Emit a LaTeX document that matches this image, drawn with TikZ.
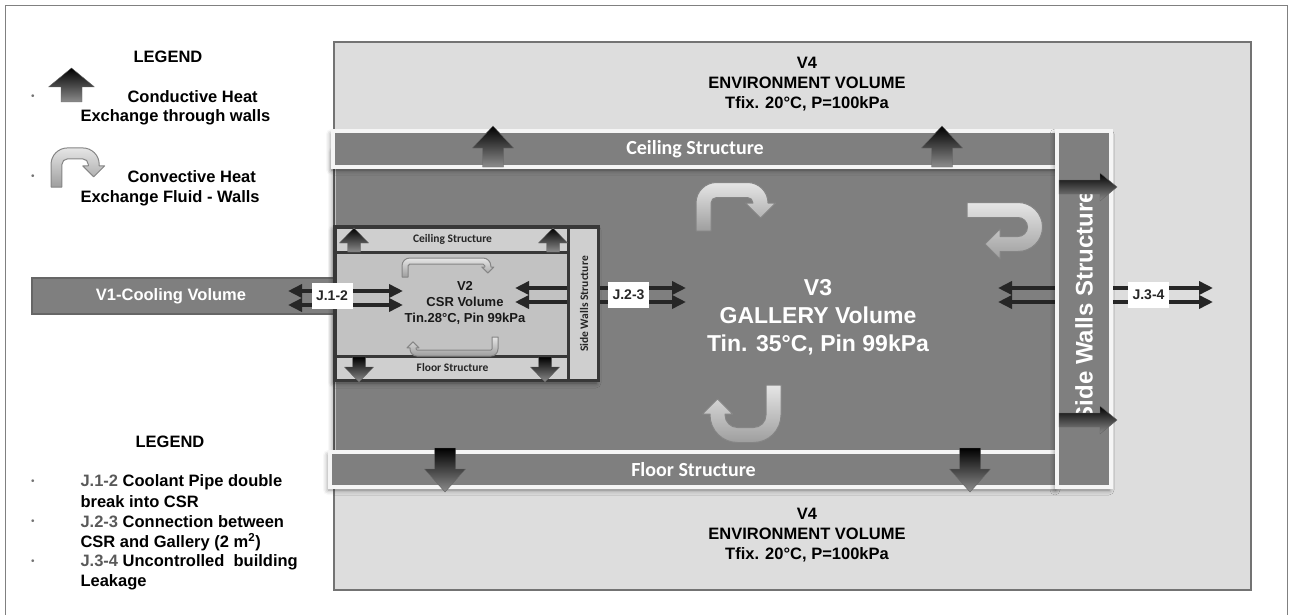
\documentclass[tikz,border=0pt]{standalone}
\usepackage{fontspec}
\setmainfont{Liberation Sans}
\newfontfamily\calfont{Carlito}
\usetikzlibrary{positioning, arrows.meta, calc, shadows.blur}
\definecolor{vgenv}{HTML}{DDDDDD}
\definecolor{vggal}{HTML}{7F7F7F}
\definecolor{vgcsr}{HTML}{C2C2C2}
\definecolor{vgrim}{HTML}{383838}
\definecolor{vgtag}{HTML}{595959}
% block arrow: base (#1,#2), turned by #3, length #4, head length #5, stem #6, head #7
\newcommand{\vgcond}[7]{%
  \begin{scope}[shift={(#1,#2)}, rotate=#3, x=1pt, y=1pt]
    \shadedraw[cond]
      ({-#6/2},0) -- ({-#6/2},{#4-#5}) -- ({-#7/2},{#4-#5}) -- (0,#4)
      -- ({#7/2},{#4-#5}) -- ({#6/2},{#4-#5}) -- ({#6/2},0) -- cycle;
  \end{scope}}
% bent arrow: stem foot (#1,#2), turned by #3, scale #4, span #5, rise #6, drop #7, bend #8
\newcommand{\vgconv}[8]{%
  \begin{scope}[shift={(#1,#2)}, rotate=#3, x=#4pt, y=#4pt]
    \shadedraw[conv]
      (-7.5,0) -- (-7.5,{#6-#8}) arc[start angle=180, end angle=90, radius={#8+7.5}]
      -- ({#5-#8},{#6+7.5}) arc[start angle=90, end angle=0, radius={#8+7.5}]
      -- ({#5+7.5},{#6-#7}) -- ({#5+15},{#6-#7}) -- (#5,{#6-#7-15})
      -- ({#5-15},{#6-#7}) -- ({#5-7.5},{#6-#7})
      -- ({#5-7.5},{#6-#8}) arc[start angle=0, end angle=90, radius={#8-7.5}]
      -- (#8,{#6-7.5}) arc[start angle=90, end angle=180, radius={#8-7.5}]
      -- (7.5,0) -- cycle;
  \end{scope}}

\begin{document}
\begin{tikzpicture}[
    x=1pt, y=-1pt,
    font=\bfseries\fontsize{16.5}{20}\selectfont,
    % ---- shared styles ---------------------------------------------------
    envbox/.style={draw=black!55, fill=vgenv, line width=1.4pt},
    galbox/.style={draw=black!25, fill=vggal, line width=1pt},
    galwall/.style={draw=black!4, fill=vggal, line width=3.5pt, inner sep=0pt,
                    text=white, font=\calfont\bfseries\fontsize{20}{24}\selectfont},
    csrbox/.style={draw=vgrim, fill=vgcsr, line width=4pt, inner sep=0pt},
    csrwall/.style={draw=vgrim, fill=black!19, line width=3pt, inner sep=0pt,
                    text=black!85, font=\calfont\bfseries\fontsize{11.5}{14}\selectfont},
    tagbox/.style={fill=white, inner sep=0pt, minimum width=41pt, minimum height=26pt,
                   text=black!85, font=\bfseries\fontsize{14}{16}\selectfont},
    jflow/.style={arrows={Triangle[length=14pt,width=13pt]-Triangle[length=14pt,width=13pt]},
                  line width=4pt, draw=black!85},
    cond/.style={top color=black, bottom color=black!45, draw=black!60,
                 line width=0.4pt, line join=round},
    conv/.style={top color=black!10, bottom color=black!38, draw=black!48,
                 line width=1pt, line join=round},
    vol/.style={align=center, text=white},
    lbl/.style={anchor=west},
    dot/.style={text=black!55, font=\fontsize{10}{12}\selectfont},
    haze/.style={blur shadow={shadow xshift=-2pt, shadow yshift=-3pt,
                              shadow blur radius=5pt, shadow opacity=45}},
  ]
\useasboundingbox (0,0) rectangle (1289,615);

% frame
\draw[black!50, line width=1pt] (5,620) -- (5,6) -- (1287,6) -- (1287,620);

% =========================================================================
% V4 -- environment all round
% =========================================================================
\draw[envbox] (334,42) rectangle (1251,590);
\node[align=center] (v4top) at (807,84)
  {V4\\ENVIRONMENT VOLUME\\Tfix. 20°C, P=100kPa};
\node[align=center] (v4bot) at (807,535)
  {V4\\ENVIRONMENT VOLUME\\Tfix. 20°C, P=100kPa};

% =========================================================================
% V3 -- gallery, ceiling and floor
% =========================================================================
\draw[galbox, haze] (335,149) rectangle (1060,470);
\node[galwall, haze, minimum width=724pt, minimum height=36pt] (ceil) at (695,149)
  {Ceiling Structure};
\node[galwall, haze, minimum width=727pt, minimum height=35pt] (floor) at (693.5,469.5)
  {Floor Structure};

\node[vol, font=\bfseries\fontsize{23}{28}\selectfont] (v3) at (818,317)
  {V3\\GALLERY Volume\\Tin. 35°C, Pin 99kPa};
\vgconv{703.5}{231}{0}{1}{57}{41}{13}{13}
\vgconv{967}{210}{-90}{1}{34}{68}{35}{17}
\vgconv{773.5}{385}{180}{1}{56}{50}{21}{20}

% =========================================================================
% V1 -- cooling volume
% =========================================================================
\draw[draw=black!60, fill=vggal, line width=1.2pt] (32,278) rectangle (335,314);
\node[text=white] (v1) at (171,296) {V1-Cooling Volume};

% =========================================================================
% V2 -- CSR box (walls laid over the junction lines)
% =========================================================================
\node[csrbox, haze, minimum width=263pt, minimum height=153pt] (csr) at (466.5,303.5) {};

\coordinate (j12w) at (288,291);  \coordinate (j12e) at (403,291);
\coordinate (j23w) at (515,288);  \coordinate (j23e) at (686,288);
\coordinate (j34w) at (998,288);  \coordinate (j34e) at (1213,288);
\foreach \dy in {0,14}{
  \draw[jflow] ($(j12w)+(0,\dy)$) -- ($(j12e)+(0,\dy)$);
  \draw[jflow] ($(j23w)+(0,\dy)$) -- ($(j23e)+(0,\dy)$);
  \draw[jflow] ($(j34w)+(0,\dy)$) -- ($(j34e)+(0,\dy)$);}

\node[csrwall, minimum width=235pt, minimum height=25pt] (cceil) at (452.5,239.5)
  {Ceiling Structure};
\node[csrwall, minimum width=235pt, minimum height=24pt] (cfloor) at (452.5,368)
  {Floor Structure};
\node[csrwall, minimum width=30pt, minimum height=153pt] (cwall) at (583,303.5) {};
\node[rotate=90, text=black!85, font=\calfont\bfseries\fontsize{11.5}{14}\selectfont]
  (cwalltxt) at (584,304) {Side Walls Structure};
\node[align=center, text=black!90, font=\bfseries\fontsize{13}{16}\selectfont]
  (v2) at (465,303) {V2\\CSR Volume\\Tin.28°C, Pin 99kPa};
\vgconv{405}{277}{0}{0.4}{207}{40}{15}{12}
\vgconv{495}{337}{180}{0.4}{205}{40}{13}{10}

% gallery side wall, over the J.3-4 lines
\node[galwall, haze, minimum width=54pt, minimum height=356pt] (wall) at (1084,309) {};
\node[rotate=90, text=white, font=\bfseries\fontsize{24}{28}\selectfont]
  (walltxt) at (1084,306) {Side Walls Structure};

% -------- conduction through the walls --------
\vgcond{354}{252}{0}{24}{15}{13}{29}
\vgcond{553}{252}{0}{24}{15}{13}{29}
\vgcond{359}{357}{180}{25}{15}{13}{29}
\vgcond{545}{357}{180}{25}{15}{13}{29}
\vgcond{493}{167}{0}{41}{22}{21}{41}
\vgcond{942}{167}{0}{41}{22}{21}{41}
\vgcond{445}{448}{180}{44}{23}{21}{41}
\vgcond{970}{448}{180}{44}{23}{21}{41}
\vgcond{1059}{187}{-90}{58}{17}{14}{28}
\vgcond{1059}{420}{-90}{58}{17}{14}{28}

% junction tags
\node[tagbox] (j12) at (332,296) {J.1-2};
\node[tagbox] (j23) at (628.5,295) {J.2-3};
\node[tagbox] (j34) at (1148.5,295) {J.3-4};

% =========================================================================
% legends
% =========================================================================
\node (leg1) at (168,57) {LEGEND};
\node[dot] (bd1) at (33,97) {•};
\node[dot] (bd2) at (33,177) {•};
\vgcond{71.5}{102}{0}{34}{19}{21}{46}
\vgconv{56.5}{187}{0}{0.73}{51}{46}{17}{15}
\node[lbl] (cd1) at (124,97) {Conductive Heat};
\node[lbl] (cd2) at (77,117) {Exchange through walls};
\node[lbl] (cv1) at (124,177) {Convective Heat};
\node[lbl] (cv2) at (77,198) {Exchange Fluid - Walls};

\node (leg2) at (170,442) {LEGEND};
\foreach \ly in {482,522,562}
  \node[dot] (bd\ly) at (33,\ly) {•};
\foreach \ly/\txt in {482/{{\color{vgtag}J.1-2} Coolant Pipe double},
                      502/{break into CSR},
                      522/{{\color{vgtag}J.2-3} Connection between},
                      542/{CSR and Gallery (2 m\textsuperscript{2})},
                      562/{{\color{vgtag}J.3-4} Uncontrolled\ \ building},
                      582/{Leakage}}
  \node[lbl] (bl\ly) at (77,\ly) {\txt};

\end{tikzpicture}
\end{document}
